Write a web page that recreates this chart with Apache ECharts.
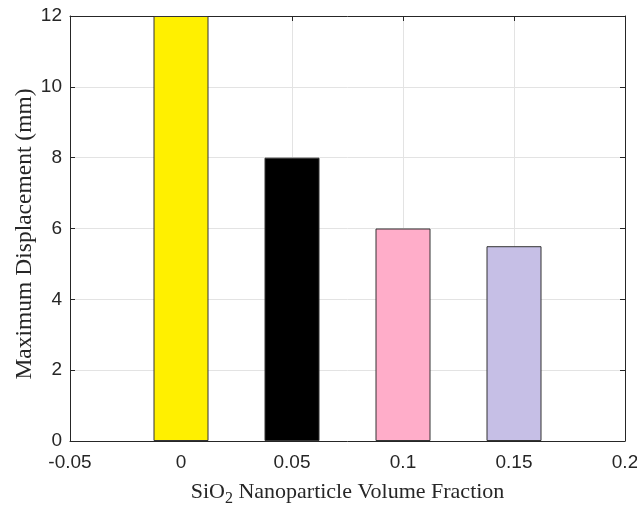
<!DOCTYPE html>
<html><head><meta charset="utf-8">
<script src="https://cdn.jsdelivr.net/npm/echarts@6/dist/echarts.min.js"></script>
<style>html,body{margin:0;padding:0;background:#fff}#c{width:637px;height:507px}</style>
</head><body><div id="c"></div>
<script>
const fractions = [0, 0.05, 0.1, 0.15];
const displacements = [12, 8, 6, 5.5];
const barColors = ['#FFF000', '#000000', '#FFADC9', '#C6BFE6'];
const xTicks = [-0.05, 0, 0.05, 0.1, 0.15, 0.2];
const yTicks = [0, 2, 4, 6, 8, 10, 12];

const axisCol = '#262626';
const fmtX = v => { const r = Math.round(v * 100) / 100; return String(r); };
const chart = echarts.init(document.getElementById('c'));
const common = {
  axisLine: { show: true, onZero: false, lineStyle: { color: axisCol, width: 1 } },
  axisTick: { show: true, inside: true, length: 5, lineStyle: { color: axisCol } },
};
chart.setOption({
  animation: false,
  backgroundColor: '#fff',
  grid: { left: 70, right: 12, top: 16, bottom: 66, containLabel: false, outerBoundsMode: 'none' },
  xAxis: [{
    type: 'value', min: -0.05, max: 0.2, interval: 0.05, position: 'bottom',
    ...common,
    splitLine: { show: true, lineStyle: { color: '#e3e3e3' } },
    axisLabel: { formatter: fmtX, color: axisCol, fontFamily: 'Liberation Sans', fontSize: 19, margin: 12 },
    name: '{a|SiO}{s|2}{a| Nanoparticle Volume Fraction}',
    nameLocation: 'middle', nameGap: 36,
    nameTextStyle: { rich: {
      a: { fontFamily: 'Liberation Serif', fontSize: 22, color: axisCol },
      s: { fontFamily: 'Liberation Serif', fontSize: 16, color: axisCol, verticalAlign: 'bottom', padding: [14, 0, 0, 0] }
    } }
  }, {
    type: 'value', min: -0.05, max: 0.2, interval: 0.05, position: 'top',
    ...common, splitLine: { show: false }, axisLabel: { show: false }
  }],
  yAxis: [{
    type: 'value', min: 0, max: 12, interval: 2, position: 'left',
    ...common,
    splitLine: { show: true, lineStyle: { color: '#e3e3e3' } },
    axisLabel: { color: axisCol, fontFamily: 'Liberation Sans', fontSize: 19, margin: 8 },
    name: 'Maximum Displacement (mm)', nameLocation: 'middle', nameGap: 33, nameMoveOverlap: false,
    nameTextStyle: { fontFamily: 'Liberation Serif', fontSize: 23.5, color: axisCol, padding: [0, 11, 0, 0] }
  }, {
    type: 'value', min: 0, max: 12, interval: 2, position: 'right',
    ...common, splitLine: { show: false }, axisLabel: { show: false }
  }],
  series: [{
    type: 'bar', xAxisIndex: 0, yAxisIndex: 0, barWidth: 55,
    data: fractions.map((f, i) => ({ value: [f, displacements[i]], itemStyle: { color: barColors[i] } })),
    itemStyle: { borderColor: '#333333', borderWidth: 1 }
  }]
});
</script></body></html>
